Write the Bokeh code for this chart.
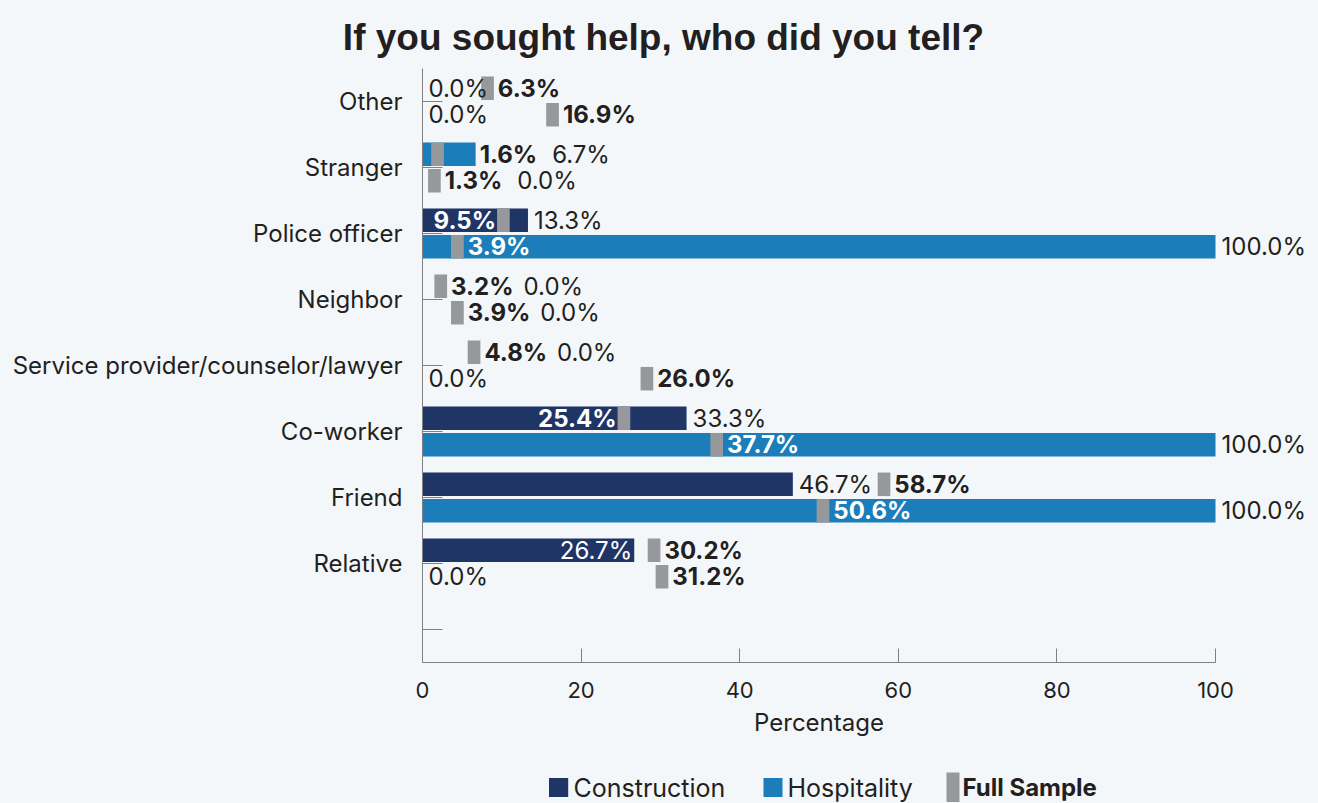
from bokeh.plotting import figure
from bokeh.layouts import column, row
from bokeh.models import (ColumnDataSource, LabelSet, Range1d, FixedTicker)
from bokeh.embed import file_html
from bokeh.resources import INLINE
from bokeh.core.properties import value

# ---------------- data ----------------
categories = ["Other", "Stranger", "Police officer", "Neighbor",
              "Service provider/counselor/lawyer", "Co-worker", "Friend", "Relative"]
construction = [0.0, 6.7, 13.3, 0.0, 0.0, 33.3, 46.7, 26.7]
hospitality = [0.0, 0.0, 100.0, 0.0, 0.0, 100.0, 100.0, 0.0]
# Full-sample labels (upper row / lower row of each category)
full_sample_upper = [6.3, 1.6, 9.5, 3.2, 4.8, 25.4, 58.7, 30.2]
full_sample_lower = [16.9, 1.3, 3.9, 3.9, 26.0, 37.7, 50.6, 31.2]
# where the grey full-sample markers sit on the axis
full_marker_upper = [8.2, 1.9, 10.2, 2.3, 6.5, 25.4, 58.2, 29.2]
full_marker_lower = [16.4, 1.5, 4.4, 4.4, 28.3, 37.1, 50.5, 30.2]
x_ticks = [0, 20, 40, 60, 80, 100]
series_names = ["Construction", "Hospitality", "Full Sample"]
title_text = "If you sought help, who did you tell?"
x_title = "Percentage"

# ---------------- style ----------------
NAVY = "#1e3566"
BLUE = "#1b7dba"
GRAY = "#97989c"
BG = "#f4f7fa"
INK = "#231f20"
AXIS = "#808080"
FONT = "Inter"
upper_bar_color = {"Stranger": BLUE}

TOTAL_W = 1310
TITLE_H, MAIN_H, BOT_H = 62, 645, 95
BL, BT, BB = 422, 6, 45
PX = 7.93                 # px per percentage point
X_END = (TOTAL_W - BL) / PX
OFF = 0.2
BAR_H = 0.356
MW = 1.6                  # marker width in data units
LBL_SIZE = "24px"

n = len(categories)
ypos = [n - i for i in range(n)]


def bare(fig):
    fig.xaxis.visible = False
    fig.yaxis.visible = False
    fig.xgrid.visible = False
    fig.ygrid.visible = False
    return fig


# ---------------- title figure ----------------
pt = bare(figure(width=TOTAL_W, height=TITLE_H, output_backend="svg", toolbar_location=None,
                 x_range=Range1d(0, TOTAL_W), y_range=Range1d(TITLE_H, 0),
                 min_border=0, background_fill_color=BG, border_fill_color=BG,
                 outline_line_color=None))
pt.text(x=[663], y=[37.3], text=[title_text], text_align="center", text_baseline="alphabetic",
        text_font=value("Liberation Sans"), text_font_style="bold", text_font_size="37px",
        text_color=INK)

# ---------------- main figure ----------------
p = figure(width=TOTAL_W, height=MAIN_H, output_backend="svg", toolbar_location=None,
           x_range=Range1d(0, X_END), y_range=Range1d(-0.5, n + 0.5),
           min_border_left=BL, min_border_right=0, min_border_top=BT, min_border_bottom=BB,
           background_fill_color=BG, border_fill_color=BG, outline_line_color=None)
p.xgrid.visible = False
p.ygrid.visible = False

up_src = ColumnDataSource(dict(y=[y + OFF for y in ypos], right=construction,
                               color=[upper_bar_color.get(c, NAVY) for c in categories]))
lo_src = ColumnDataSource(dict(y=[y - OFF for y in ypos], right=hospitality))
p.hbar(y="y", left=0, right="right", height=BAR_H, fill_color="color", line_color=None, source=up_src)
p.hbar(y="y", left=0, right="right", height=BAR_H, fill_color=BLUE, line_color=None, source=lo_src)

mk_src = ColumnDataSource(dict(
    y=[y + OFF for y in ypos] + [y - OFF for y in ypos],
    left=[m - MW / 2 for m in full_marker_upper + full_marker_lower],
    right=[m + MW / 2 for m in full_marker_upper + full_marker_lower]))
p.hbar(y="y", left="left", right="right", height=BAR_H, fill_color=GRAY, line_color=None, source=mk_src)


# ---------------- label placement ----------------
def tw(s, bold):
    w = 0.0
    for ch in s:
        if ch.isdigit():
            w += 15.5 if bold else 14.0
        elif ch == ".":
            w += 7.5 if bold else 7.0
        elif ch == "%":
            w += 21.0 if bold else 22.0
        else:
            w += 12.0
    return w


def fmt(v):
    return f"{v:.1f}%"


def place(v, m, tv, tm):
    vx, mx, h = v * PX, m * PX, MW * PX / 2
    wm, wv = tw(tm, True), tw(tv, False)
    if m < v:
        if mx + h + 4 + wm <= vx - 2:
            lm = (mx + h + 4, "left", "white")
        elif mx - h - 2 - wm >= 0:
            lm = (mx - h - 1, "right", "white")
        else:
            lm = (vx + 4, "left", INK)
    else:
        lm = (mx + h + 4, "left", INK)
    lm_l = lm[0] if lm[1] == "left" else lm[0] - wm
    lm_r = lm_l + wm
    if v <= 0:
        x = 6
        if x + wv > mx - h + 8:
            x = lm_r + 13
        lv = (x, "left", INK)
    else:
        x = vx + 6
        hit_m = (mx - h < x + wv) and (mx + h > x)
        hit_l = (lm_l < x + wv) and (lm_r > x)
        if hit_m and wv + 10 <= vx:
            lv = (vx - 2, "right", "white")
        elif hit_l:
            lv = (lm_r + 13, "left", INK)
        else:
            lv = (x, "left", INK)
    return lm, lv


groups = {}


def add(bold, align, x, y, text, color):
    g = groups.setdefault((bold, align), dict(x=[], y=[], text=[], color=[]))
    g["x"].append(x / PX)
    g["y"].append(y)
    g["text"].append(text)
    g["color"].append(color)


for i in range(n):
    for (v, m, fs, yy) in ((construction[i], full_marker_upper[i], full_sample_upper[i], ypos[i] + OFF),
                           (hospitality[i], full_marker_lower[i], full_sample_lower[i], ypos[i] - OFF)):
        tv, tm = fmt(v), fmt(fs)
        lm, lv = place(v, m, tv, tm)
        add(True, lm[1], lm[0], yy, tm, lm[2])
        add(False, lv[1], lv[0], yy, tv, lv[2])

for (bold, align), g in groups.items():
    p.add_layout(LabelSet(x="x", y="y", text="text", source=ColumnDataSource(g),
                          text_align=align, text_baseline="middle", text_color="color",
                          text_font=value(FONT), text_font_size=LBL_SIZE,
                          text_font_style="bold" if bold else "normal"))

# ---------------- axes ----------------
p.xaxis.ticker = FixedTicker(ticks=x_ticks)
p.xaxis.bounds = (0, 100)
p.yaxis.ticker = FixedTicker(ticks=list(range(0, n + 1)))
p.yaxis.major_label_overrides = {0: ""} | {ypos[i]: categories[i] for i in range(n)}
for ax in (p.xaxis[0], p.yaxis[0]):
    ax.axis_line_color = AXIS
    ax.major_tick_line_color = AXIS
    ax.minor_tick_line_color = None
    ax.major_tick_out = 0
    ax.major_label_text_font = FONT
    ax.major_label_text_color = INK
p.xaxis.major_label_text_font_size = "22px"
p.yaxis.major_label_text_font_size = "24px"
p.xaxis.major_tick_in = 14
p.yaxis.major_tick_in = 20
p.xaxis.major_label_standoff = 19
p.yaxis.major_label_standoff = 20

# ---------------- bottom figure: axis title + legend ----------------
pb = bare(figure(width=TOTAL_W, height=BOT_H, output_backend="svg", toolbar_location=None,
                 x_range=Range1d(0, TOTAL_W), y_range=Range1d(BOT_H, 0),
                 min_border=0, background_fill_color=BG, border_fill_color=BG,
                 outline_line_color=None))
pb.text(x=[BL + 50 * PX], y=[15], text=[x_title], text_align="center", text_baseline="middle",
        text_font=value(FONT), text_font_size="24px", text_color=INK)
LY = 80
pb.quad(left=[548.5, 763, 946], right=[567.7, 782, 959],
        top=[LY - 9.5, LY - 9.5, LY - 15], bottom=[LY + 9.5, LY + 9.5, LY + 16],
        fill_color=[NAVY, BLUE, GRAY], line_color=None)
pb.text(x=[573, 787], y=[LY, LY], text=series_names[:2], text_align="left", text_baseline="middle",
        text_font=value(FONT), text_font_size="25px", text_color=INK)
pb.text(x=[962], y=[LY], text=series_names[2:], text_align="left", text_baseline="middle",
        text_font=value(FONT), text_font_style="bold", text_font_size="24px", text_color=INK)

layout = column(row(pt), p, row(pb), spacing=0)
try:
    from bokeh.models import GlobalInlineStyleSheet
    layout.stylesheets = [GlobalInlineStyleSheet(css="body{background:%s;}" % BG)]
except Exception:
    pass

open("out.html", "w").write(file_html(layout, INLINE))
